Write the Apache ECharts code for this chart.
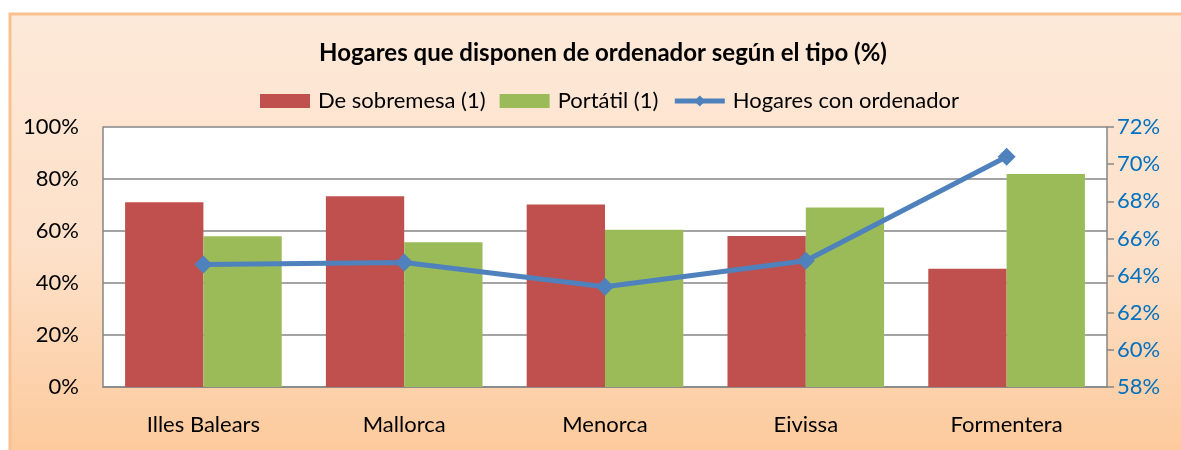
<!DOCTYPE html>
<html>
<head>
<meta charset="utf-8">
<script src="https://cdn.jsdelivr.net/npm/echarts@6/dist/echarts.min.js"></script>
<style>
  html, body { margin: 0; padding: 0; background: #fff; }
  #chart { width: 1181px; height: 450px; }
</style>
</head>
<body>
<div id="chart"></div>
<script>
// islas
const islas = ['Illes Balears', 'Mallorca', 'Menorca', 'Eivissa', 'Formentera'];
// % hogares (eje izq.)
const sobremesa = [71.1, 73.4, 70.2, 58.1, 45.5];
const portatil = [58.0, 55.7, 60.5, 69.0, 81.9];
// % hogares con ordenador (eje dcho.)
const conOrdenador = [64.6, 64.7, 63.4, 64.8, 70.4];

const FONT = 'Lato, "Open Sans", sans-serif';

const chart = echarts.init(document.getElementById('chart'));
const option = {
  animation: false,
  textStyle: { fontFamily: FONT },
  graphic: [{
    type: 'rect',
    z: -10,
    silent: true,
    shape: { x: 10, y: 14, width: 1200, height: 480 },
    style: {
      fill: new echarts.graphic.LinearGradient(0, 0, 0, 1, [
        { offset: 0, color: '#fde9d9' },
        { offset: 0.5, color: '#fde0c8' },
        { offset: 1, color: '#fcc592' }
      ]),
      stroke: '#fac090',
      lineWidth: 3
    }
  }],
  title: {
    text: '{b|Hogares que disponen de ordenador según el tipo}{n|\u00a0(%)}',
    left: 598,
    top: 36,
    textAlign: 'center',
    textStyle: {
      rich: {
        b: { fontFamily: FONT, fontSize: 24, fontWeight: 'bold', color: '#000' },
        n: { fontFamily: FONT, fontSize: 24, color: '#000' }
      }
    }
  },
  legend: {
    top: 85,
    left: 255,
    itemWidth: 50,
    itemHeight: 14,
    itemGap: 14,
    textStyle: { fontFamily: FONT, fontSize: 22, color: '#000', padding: [0, 0, 0, 3] },
    data: [
      { name: 'De sobremesa (1)', icon: 'rect' },
      { name: 'Portátil (1)', icon: 'rect' },
      { name: 'Hogares con ordenador', lineStyle: { width: 5 } }
    ]
  },
  grid: {
    left: 103,
    right: 74,
    top: 127,
    bottom: 63,
    show: true,
    backgroundColor: '#fff',
    borderWidth: 0
  },
  xAxis: {
    type: 'category',
    data: islas,
    axisLine: { lineStyle: { color: '#868686', width: 1.5 } },
    axisTick: { show: false },
    axisLabel: { color: '#000', fontSize: 22, fontFamily: FONT, margin: 27 }
  },
  yAxis: [{
    type: 'value',
    min: 0,
    max: 100,
    interval: 20,
    axisLine: { show: true, lineStyle: { color: '#868686', width: 1.5 } },
    axisTick: { show: false },
    axisLabel: { color: '#000', fontSize: 22, fontFamily: FONT, margin: 24, formatter: '{value}%' },
    splitLine: { lineStyle: { color: '#868686', width: 1.5 } }
  }, {
    type: 'value',
    min: 58,
    max: 72,
    interval: 2,
    position: 'right',
    axisLine: { show: true, lineStyle: { color: '#868686', width: 1.5 } },
    axisTick: { show: true, length: 7, lineStyle: { color: '#868686', width: 1.5 } },
    axisLabel: { color: '#0070c0', fontSize: 22, fontFamily: FONT, margin: 10, formatter: '{value}%' },
    splitLine: { show: false }
  }],
  series: [{
    name: 'De sobremesa (1)',
    type: 'bar',
    data: sobremesa,
    barGap: '0%',
    barCategoryGap: '22%',
    itemStyle: { color: '#c0504d' }
  }, {
    name: 'Portátil (1)',
    type: 'bar',
    data: portatil,
    itemStyle: { color: '#9bbb59' }
  }, {
    name: 'Hogares con ordenador',
    type: 'line',
    yAxisIndex: 1,
    data: conOrdenador,
    symbol: 'diamond',
    symbolSize: 18,
    lineStyle: { color: '#4f81bd', width: 5 },
    itemStyle: { color: '#4f81bd' }
  }]
};
chart.setOption(option);
</script>
</body>
</html>
